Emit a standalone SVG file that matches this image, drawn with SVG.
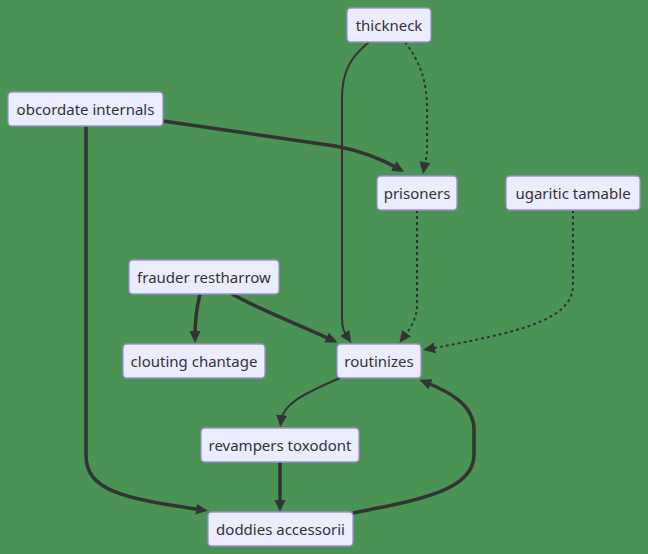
<svg xmlns="http://www.w3.org/2000/svg" width="648" height="554" viewBox="0 0 648 554">
<defs>
<marker id="ah" viewBox="0 0 12 12" refX="6" refY="6" markerWidth="12" markerHeight="12" markerUnits="userSpaceOnUse" orient="auto">
<path d="M0,0.5 L12,6 L0,11.5 z" fill="#333333"/>
</marker>
</defs>
<style>
.node rect{fill:#ECECFF;stroke:#9b8fcf;stroke-width:1.3}
.node text{font-family:"Noto Sans","Open Sans",sans-serif;font-size:15px;fill:#333333;text-anchor:middle}
.e{fill:none;stroke:#333333;marker-end:url(#ah)}
.thin{stroke-width:2}
.thick{stroke-width:3.5}
.dot{stroke-width:2;stroke-dasharray:3,3}
</style>
<rect width="648" height="554" fill="#4a9354"/>
<g id="connectors">
<path class="e thin" d="M369,42 C352,56 342,70 342,98 L342,318 C342,328 344,332 348,338"/>
<path class="e dot" d="M405,42 C420,62 427,80 427,110 L427,150 C427,158 425,162 424,168"/>
<path class="e thick" d="M163,121 L335,146 C362,151 382,159 399,169"/>
<path class="e thick" d="M86,126 L86,455 C86,490 120,498 202,510"/>
<path class="e thick" d="M200,294 C196,310 195,324 195,337"/>
<path class="e thick" d="M232,294 C260,310 300,325 332,340"/>
<path class="e dot" d="M417,210 L417,305 C417,320 409,330 403,338"/>
<path class="e dot" d="M573,210 L573,285 C573,320 520,332 429,349"/>
<path class="e thin" d="M340,378 C300,395 283,405 281,421"/>
<path class="e thick" d="M280,462 L280,506"/>
<path class="e thick" d="M353,513 C420,500 474,490 474,455 L474,430 C474,405 450,392 425,382"/>
</g>
<g id="thickneck" class="node"><rect x="347" y="8" width="84" height="34" rx="4"/><text x="389" y="30.5">thickneck</text></g>
<g id="obcordate_internals" class="node"><rect x="8" y="92" width="155" height="34" rx="4"/><text x="85.5" y="114.5">obcordate internals</text></g>
<g id="prisoners" class="node"><rect x="377" y="176" width="80" height="34" rx="4"/><text x="417" y="198.5">prisoners</text></g>
<g id="ugaritic_tamable" class="node"><rect x="506" y="176" width="134" height="34" rx="4"/><text x="573" y="198.5">ugaritic tamable</text></g>
<g id="frauder_restharrow" class="node"><rect x="129" y="260" width="150" height="34" rx="4"/><text x="204" y="282.5">frauder restharrow</text></g>
<g id="clouting_chantage" class="node"><rect x="123" y="344" width="142" height="34" rx="4"/><text x="194" y="366.5">clouting chantage</text></g>
<g id="routinizes" class="node"><rect x="337" y="344" width="84" height="34" rx="4"/><text x="379" y="366.5">routinizes</text></g>
<g id="revampers_toxodont" class="node"><rect x="201" y="428" width="158" height="34" rx="4"/><text x="280" y="450.5">revampers toxodont</text></g>
<g id="doddies_accessorii" class="node"><rect x="208" y="512" width="145" height="34" rx="4"/><text x="280.5" y="534.5">doddies accessorii</text></g>
</svg>
